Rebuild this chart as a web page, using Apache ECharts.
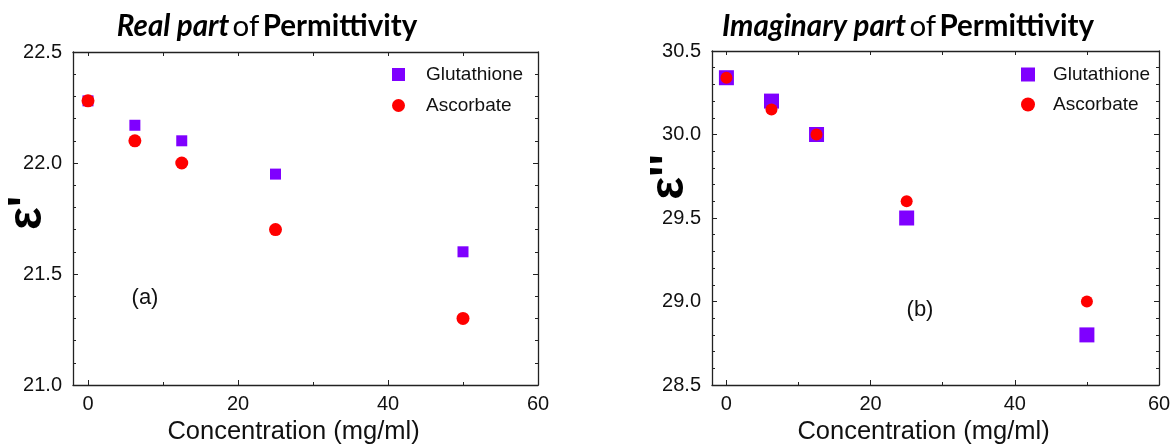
<!DOCTYPE html>
<html>
<head>
<meta charset="utf-8">
<script src="https://cdn.jsdelivr.net/npm/echarts@6/dist/echarts.min.js"></script>
<style>html,body{margin:0;padding:0;background:#fff}#c{width:1174px;height:444px}</style>
</head>
<body>
<div id="c"></div>
<script>
const concentration = [0, 6.25, 12.5, 25, 50];
const realGlutathione = [22.28, 22.17, 22.10, 21.95, 21.60];
const realAscorbate = [22.28, 22.10, 22.00, 21.70, 21.30];
const imagGlutathione = [30.34, 30.20, 30.00, 29.50, 28.80];
const imagAscorbate = [30.34, 30.15, 30.00, 29.60, 29.00];
const xMajorTicks = [0, 20, 40, 60];
const xMinorTicks = [10, 30, 50];
const xAllTicks = [0, 10, 20, 30, 40, 50, 60];
const seriesNames = ['Glutathione', 'Ascorbate'];

const pairs = (xs, ys) => xs.map((x, i) => [x, ys[i]]);
const LINE = '#222';
const FONT = 'Liberation Sans, Arial, sans-serif';

function xAxes(grid) {
  return [
    { gridIndex: grid, type: 'value', position: 'bottom', min: -2, max: 60,
      axisLine: { show: true, onZero: false, lineStyle: { color: LINE, width: 1.3 } },
      axisTick: { show: true, inside: true, length: 5, customValues: xMajorTicks, lineStyle: { color: LINE } },
      axisLabel: { show: true, customValues: xMajorTicks, color: '#111', fontSize: 20, fontFamily: FONT, margin: 9 },
      splitLine: { show: false },
      name: 'Concentration (mg/ml)', nameLocation: 'middle', nameGap: 33,
      nameTextStyle: { fontSize: 25.5, fontFamily: FONT, color: '#111', padding: [0, 24, 0, 0] } },
    { gridIndex: grid, type: 'value', position: 'bottom', min: -2, max: 60,
      axisLine: { show: false, onZero: false },
      axisTick: { show: true, inside: true, length: 3, customValues: xMinorTicks, lineStyle: { color: LINE } },
      axisLabel: { show: false }, splitLine: { show: false } },
    { gridIndex: grid, type: 'value', position: 'top', min: -2, max: 60,
      axisLine: { show: true, onZero: false, lineStyle: { color: LINE, width: 1.3 } },
      axisTick: { show: true, inside: true, length: 4, customValues: xAllTicks, lineStyle: { color: LINE } },
      axisLabel: { show: false }, splitLine: { show: false } }
  ];
}
function yAxes(grid, min, max) {
  const common = { gridIndex: grid, type: 'value', min: min, max: max, interval: 0.5,
    axisLine: { show: true, onZero: false, lineStyle: { color: LINE, width: 1.3 } },
    axisTick: { show: true, inside: true, length: 5, lineStyle: { color: LINE } },
    minorTick: { show: true, splitNumber: 5, length: 3, lineStyle: { color: LINE } },
    splitLine: { show: false }, minorSplitLine: { show: false } };
  return [
    Object.assign({}, common, { position: 'left',
      axisLabel: { show: true, color: '#111', fontSize: 20, fontFamily: FONT, margin: 11,
        formatter: v => v.toFixed(1) } }),
    Object.assign({}, common, { position: 'right', axisLabel: { show: false } })
  ];
}

const purple = '#7F00FF';
const red = '#FF0000';
const titleRich = {
  bi: { fontFamily: 'Lato', fontWeight: 'bold', fontStyle: 'italic', fontSize: 29.5, fill: '#000' },
  n: { fontFamily: 'Lato', fontSize: 29.5, fill: '#000' },
  b: { fontFamily: 'Lato', fontWeight: 'bold', fontSize: 29.5, fill: '#000' }
};

const option = {
  animation: false,
  backgroundColor: '#fff',
  grid: [
    { left: 73, top: 52, width: 465, height: 333, containLabel: false, outerBoundsMode: 'none' },
    { left: 712, top: 51, width: 447, height: 334, containLabel: false, outerBoundsMode: 'none' }
  ],
  xAxis: [...xAxes(0), ...xAxes(1)],
  yAxis: [...yAxes(0, 21, 22.5), ...yAxes(1, 28.5, 30.5)],
  legend: [
    { orient: 'vertical', left: 387, top: 60, itemWidth: 13, itemHeight: 13, itemGap: 12,
      data: seriesNames, textStyle: { fontSize: 19, fontFamily: FONT, color: '#111', padding: [0, 0, 0, 16] } },
    { orient: 'vertical', left: 1016, top: 60, itemWidth: 14, itemHeight: 14, itemGap: 11,
      data: seriesNames, textStyle: { fontSize: 19, fontFamily: FONT, color: '#111', padding: [0, 0, 0, 13] } }
  ],
  series: [
    { name: seriesNames[0], type: 'scatter', xAxisIndex: 0, yAxisIndex: 0, symbol: 'rect', symbolSize: 11,
      itemStyle: { color: purple, opacity: 1 }, data: pairs(concentration, realGlutathione) },
    { name: seriesNames[1], type: 'scatter', xAxisIndex: 0, yAxisIndex: 0, symbol: 'circle', symbolSize: 13,
      itemStyle: { color: red, opacity: 1 }, data: pairs(concentration, realAscorbate) },
    { name: seriesNames[0], type: 'scatter', xAxisIndex: 3, yAxisIndex: 2, symbol: 'rect', symbolSize: 15,
      itemStyle: { color: purple, opacity: 1 }, data: pairs(concentration, imagGlutathione) },
    { name: seriesNames[1], type: 'scatter', xAxisIndex: 3, yAxisIndex: 2, symbol: 'circle', symbolSize: 12,
      itemStyle: { color: red, opacity: 1 }, data: pairs(concentration, imagAscorbate) }
  ],
  graphic: [
    { type: 'text', x: 267, y: 26, style: {
        text: '{bi|Real part} {n|of} {b|Permittivity}', align: 'center', verticalAlign: 'middle', rich: titleRich } },
    { type: 'text', x: 908, y: 26, style: {
        text: '{bi|Imaginary part} {n|of} {b|Permittivity}', align: 'center', verticalAlign: 'middle', rich: titleRich } },
    { type: 'text', x: 28, y: 213, rotation: Math.PI / 2, style: {
        text: "ε'", align: 'center', verticalAlign: 'middle',
        font: 'bold 48px "Liberation Sans", Arial, sans-serif', fill: '#000' } },
    { type: 'text', x: 670, y: 177, rotation: Math.PI / 2, style: {
        text: "ε''", align: 'center', verticalAlign: 'middle',
        font: 'bold 48px "Liberation Sans", Arial, sans-serif', fill: '#000' } },
    { type: 'text', x: 145, y: 298, style: {
        text: '(a)', align: 'center', verticalAlign: 'middle',
        font: '22px "Liberation Sans", Arial, sans-serif', fill: '#111' } },
    { type: 'text', x: 920, y: 310, style: {
        text: '(b)', align: 'center', verticalAlign: 'middle',
        font: '22px "Liberation Sans", Arial, sans-serif', fill: '#111' } }
  ]
};

const chart = echarts.init(document.getElementById('c'), null, { renderer: 'canvas' });
chart.setOption(option);
</script>
</body>
</html>
